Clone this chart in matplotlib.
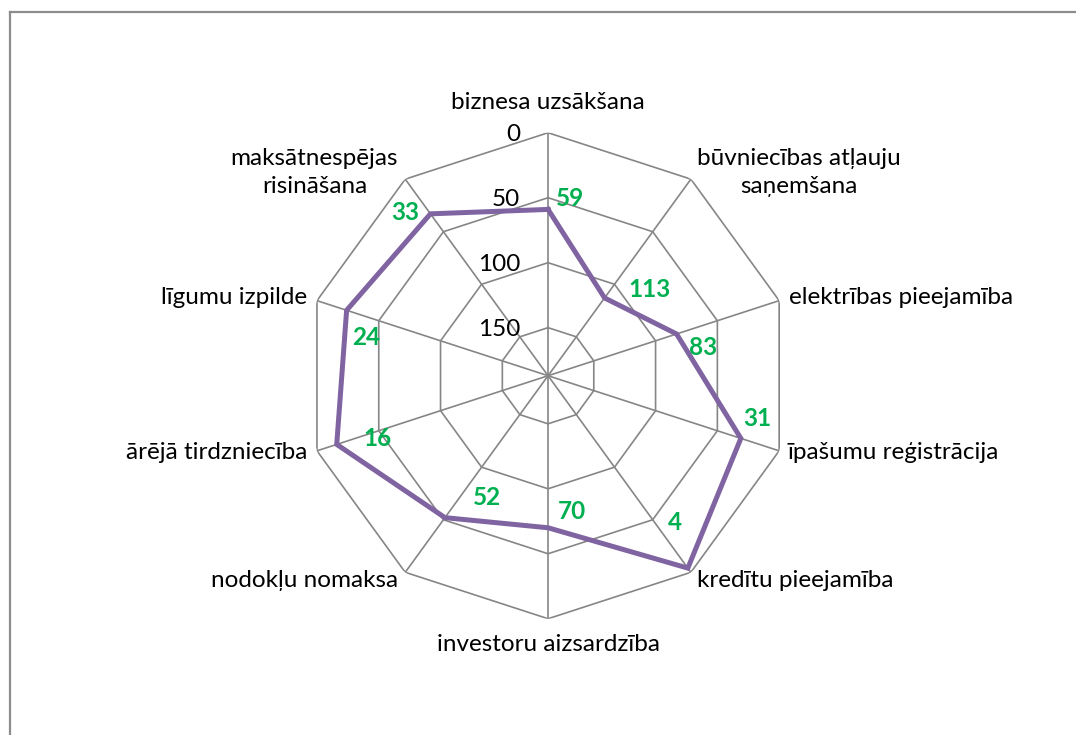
import numpy as np
import matplotlib.pyplot as plt
from matplotlib.lines import Line2D

# ---------------- DATA ----------------
categories = [
    "biznesa uzsākšana",
    "būvniecības atļauju\nsaņemšana",
    "elektrības pieejamība",
    "īpašumu reģistrācija",
    "kredītu pieejamība",
    "investoru aizsardzība",
    "nodokļu nomaksa",
    "ārējā tirdzniecība",
    "līgumu izpilde",
    "maksātnespējas\nrisināšana",
]
values = [59, 113, 83, 31, 4, 70, 52, 16, 24, 33]
ring_values = [0, 50, 100, 150]
r_center = 187  # value at the middle of the (reversed) radial axis

# label placement (pixels from anchor)
cat_offsets = [(0, 30), (6, 7), (10, 3), (8, -2), (6, -8),
               (0, -26), (-7, -8), (-10, -2), (-10, 3), (-7, 7)]
cat_ha = ["center", "left", "left", "left", "left",
          "center", "right", "right", "right", "right"]
val_offsets = [(22, 11), (45, 8), (26, -14), (16, 20), (-13, 46),
               (24, 16), (42, 20), (41, 6), (20, -27), (-25, 1)]

FONT = "Lato"
FS = 17.5
GRID = "#868686"
LINE = "#8064A2"
GREEN = "#00B050"

fig = plt.figure(figsize=(10.76, 7.35), dpi=100)
ax = fig.add_axes([0.2835, 0.1582, 0.4517, 0.6612], projection="polar")
ax.set_theta_zero_location("N")
ax.set_theta_direction(-1)
ax.set_ylim(r_center, 0)
ax.grid(False)
ax.spines["polar"].set_visible(False)
ax.set_xticks([])
ax.set_yticks([])
ax.patch.set_alpha(0)

n = len(categories)
angles = np.linspace(0, 2 * np.pi, n, endpoint=False)
closed = np.append(angles, angles[0])

# decagon rings
for rv in ring_values:
    ax.plot(closed, [rv] * (n + 1), color=GRID, lw=1.2, zorder=1)
# spokes
for a in angles:
    ax.plot([a, a], [0, r_center], color=GRID, lw=1.2, zorder=1)

# tick labels on vertical axis
for rv in ring_values:
    ax.annotate(str(rv), xy=(0, rv), xytext=(-28, -2), textcoords="offset pixels",
                ha="right", va="center", fontsize=FS, family=FONT, color="black")

# series
vals_closed = values + values[:1]
ax.plot(closed, vals_closed, color=LINE, lw=3.6, zorder=3, solid_joinstyle="miter")

# data labels
for a, v, off in zip(angles, values, val_offsets):
    ax.annotate(str(v), xy=(a, v), xytext=off, textcoords="offset pixels",
                ha="center", va="center", fontsize=FS, family=FONT,
                fontweight="bold", color=GREEN, zorder=4)

# category labels
for a, lab, off, ha in zip(angles, categories, cat_offsets, cat_ha):
    ax.annotate(lab, xy=(a, 0), xytext=off, textcoords="offset pixels",
                ha=ha, va="center", multialignment="center",
                fontsize=FS, family=FONT, color="black", linespacing=1.4,
                annotation_clip=False)

# chart area border (left and top visible)
fig.add_artist(Line2D([10 / 1076, 10 / 1076], [0, 1 - 12 / 735],
                      transform=fig.transFigure, color="#8c8c8c", lw=1.6))
fig.add_artist(Line2D([10 / 1076, 1], [1 - 12 / 735, 1 - 12 / 735],
                      transform=fig.transFigure, color="#8c8c8c", lw=1.6))

fig.savefig("out.png", dpi=100)
